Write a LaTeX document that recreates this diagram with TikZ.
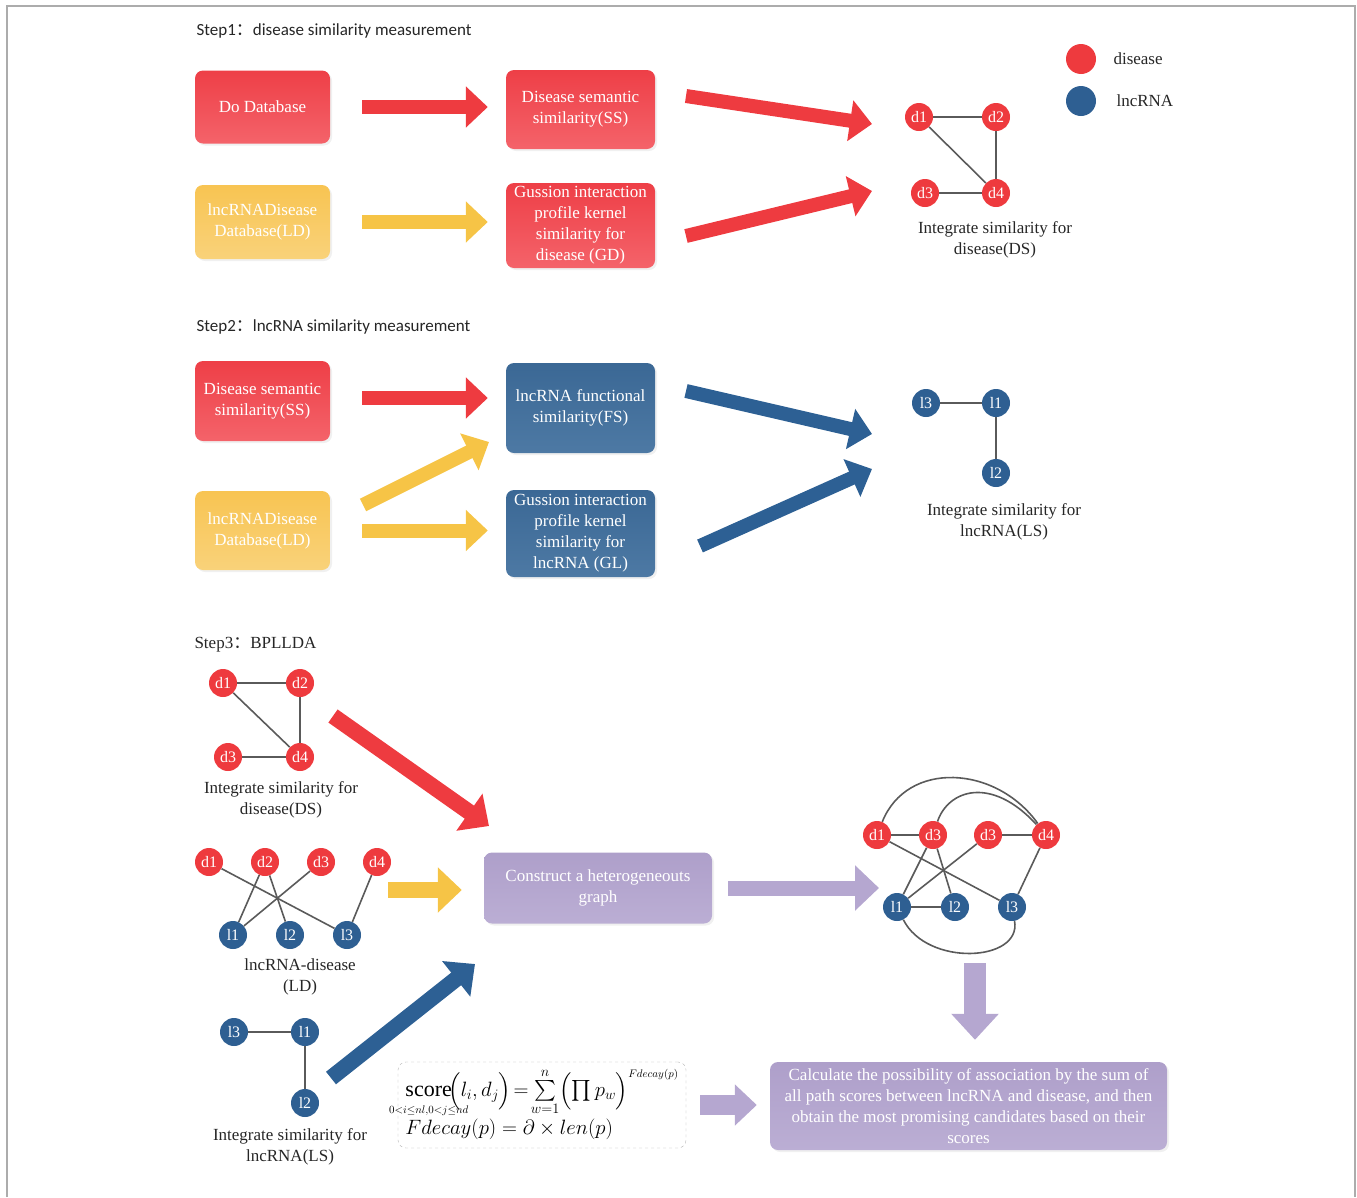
\documentclass[tikz,border=0pt]{standalone}
\usepackage{amsmath}
\usepackage{fontspec}
\setmainfont{Liberation Serif}
\newfontfamily\stepfont{Carlito}
\newfontfamily\cjk{Noto Sans CJK SC}
\usepackage{xcolor}
\usetikzlibrary{arrows.meta,positioning,shadows,calc}

\definecolor{boxred}{HTML}{EE3F47}
\definecolor{boxredlt}{HTML}{F4636A}
\definecolor{boxyel}{HTML}{F8C452}
\definecolor{boxyellt}{HTML}{F9D27A}
\definecolor{boxblue}{HTML}{3B6895}
\definecolor{boxbluelt}{HTML}{4D79A4}
\definecolor{boxpur}{HTML}{AE9FCA}
\definecolor{boxpurlt}{HTML}{BBAED4}
\definecolor{nodered}{HTML}{EE3A3E}
\definecolor{nodeblue}{HTML}{2E5F92}
\definecolor{arrred}{HTML}{EE3B40}
\definecolor{arryel}{HTML}{F6C446}
\definecolor{arrblue}{HTML}{2D6094}
\definecolor{arrpur}{HTML}{B5A7D0}
\definecolor{edgegray}{HTML}{5A5A5A}

\tikzset{
  box/.style={rounded corners=8pt, align=center, text=white, inner sep=2pt,
    font=\fontsize{17}{21}\selectfont,
    drop shadow={opacity=0.12, shadow xshift=2pt, shadow yshift=-2pt}},
  redbox/.style={box, top color=boxred, bottom color=boxredlt},
  yelbox/.style={box, top color=boxyel, bottom color=boxyellt},
  bluebox/.style={box, top color=boxblue, bottom color=boxbluelt},
  purbox/.style={box, top color=boxpur, bottom color=boxpurlt},
  dnode/.style={circle, fill=nodered, text=white, minimum size=28pt, inner sep=0pt,
    font=\fontsize{16}{16}\selectfont},
  lnode/.style={dnode, fill=nodeblue},
  edge/.style={draw=edgegray, line width=1.6pt},
  fat/.style={line width=14pt, -{Triangle[length=22pt, width=40pt]}},
  redarrow/.style={fat, draw=arrred},
  yelarrow/.style={fat, draw=arryel},
  bluearrow/.style={fat, draw=arrblue},
  purarrow/.style={fat, draw=arrpur},
  caption/.style={align=center, text=black!85, font=\fontsize{17}{21}\selectfont},
  stephead/.style={anchor=west, text=black!85, font=\stepfont\fontsize{17}{20}\selectfont},
}

\begin{document}
\begin{tikzpicture}[x=1pt, y=-1pt]
    \useasboundingbox (0,0) rectangle (1357,1197);
    \draw[gray!65, line width=2pt] (7,1197) -- (7,6) -- (1355,6) -- (1355,1197);

    % Step 1
    \node[stephead] (stepone) at (193,31) {Step1{\cjk ：}disease similarity measurement};
    \node[redbox, minimum width=135pt, minimum height=73pt] (dodb) at (262.5,107) {Do Database};
    \node[yelbox, minimum width=135pt, minimum height=74pt] (ldone) at (262.5,222) {lncRNADisease\\Database(LD)};
    \node[redbox, minimum width=149pt, minimum height=79pt] (ssone) at (580.5,109.5) {Disease semantic\\similarity(SS)};
    \node[redbox, minimum width=149pt, minimum height=85pt] (gdone) at (580.5,225.5) {Gussion interaction\\profile kernel\\similarity for\\disease (GD)};

    \draw[redarrow, shorten <=32pt, shorten >=18pt] (dodb.east) -- (dodb.east -| ssone.west);
    \draw[yelarrow, shorten <=32pt, shorten >=18pt] (ldone.east) -- (ldone.east -| gdone.west);

    \coordinate (ssout) at (686,96);
    \coordinate (gdout) at (686,236);
    \coordinate (dsinone) at (872,124);
    \coordinate (dsintwo) at (872,191);
    \draw[redarrow] (ssout) -- (dsinone);
    \draw[redarrow] (gdout) -- (dsintwo);

    % disease similarity graph
    \node[dnode] (oned1) at (919,117) {d1};
    \node[dnode] (oned2) at (996,117) {d2};
    \node[dnode] (oned3) at (925,193) {d3};
    \node[dnode] (oned4) at (996,193) {d4};
    \draw[edge] (oned1) -- (oned2);
    \draw[edge] (oned1) -- (oned4);
    \draw[edge] (oned2) -- (oned4);
    \draw[edge] (oned3) -- (oned4);
    \node[caption] (dscapone) at (995,240) {Integrate similarity for\\disease(DS)};

    % legend
    \node[dnode, minimum size=30pt] (legd) at (1081,59) {};
    \node[lnode, minimum size=30pt] (legl) at (1081,101) {};
    \node[caption, anchor=west] (legdtxt) at (1110,59) {disease};
    \node[caption, anchor=west] (legltxt) at (1113,101) {lncRNA};

    % Step 2
    \node[stephead] (steptwo) at (193,327) {Step2{\cjk ：}lncRNA similarity measurement};
    \node[redbox, minimum width=135pt, minimum height=80pt] (sstwo) at (262.5,401) {Disease semantic\\similarity(SS)};
    \node[yelbox, minimum width=135pt, minimum height=79pt] (ldtwo) at (262.5,530.5) {lncRNADisease\\Database(LD)};
    \node[bluebox, minimum width=149pt, minimum height=90pt] (fstwo) at (580.5,408) {lncRNA functional\\similarity(FS)};
    \node[bluebox, minimum width=149pt, minimum height=87pt] (gltwo) at (580.5,533.5) {Gussion interaction\\profile kernel\\similarity for\\lncRNA (GL)};

    \draw[redarrow, shorten <=32pt, shorten >=18pt] (sstwo.east |- 0,398) -- (fstwo.west |- 0,398);
    \draw[yelarrow, shorten <=32pt, shorten >=18pt] (ldtwo.east) -- (ldtwo.east -| gltwo.west);
    \coordinate (ldup) at (363,505);
    \coordinate (fsin) at (489,442);
    \draw[yelarrow] (ldup) -- (fsin);

    \coordinate (fsout) at (686,391);
    \coordinate (glout) at (700,546);
    \coordinate (lsinone) at (872,434);
    \coordinate (lsintwo) at (872,469);
    \draw[bluearrow] (fsout) -- (lsinone);
    \draw[bluearrow] (glout) -- (lsintwo);

    % lncRNA similarity graph
    \node[lnode] (twol3) at (926,403) {l3};
    \node[lnode] (twol1) at (996,403) {l1};
    \node[lnode] (twol2) at (996,473) {l2};
    \draw[edge] (twol3) -- (twol1);
    \draw[edge] (twol1) -- (twol2);
    \node[caption] (lscaptwo) at (1004,522) {Integrate similarity for\\lncRNA(LS)};

    % Step 3
    \node[caption, anchor=west] (stepthree) at (191,645) {Step3{\cjk ：}BPLLDA};

    \node[dnode] (thrd1) at (223,683) {d1};
    \node[dnode] (thrd2) at (300,683) {d2};
    \node[dnode] (thrd3) at (228,757) {d3};
    \node[dnode] (thrd4) at (300,757) {d4};
    \draw[edge] (thrd1) -- (thrd2);
    \draw[edge] (thrd1) -- (thrd4);
    \draw[edge] (thrd2) -- (thrd4);
    \draw[edge] (thrd3) -- (thrd4);
    \node[caption] (dscapthree) at (281,800) {Integrate similarity for\\disease(DS)};

    % lncRNA-disease graph
    \foreach \i/\x in {1/209,2/265,3/321,4/377}
        \node[dnode] (ldd\i) at (\x,862) {d\i};
    \foreach \i/\x in {1/233,2/290,3/347}
        \node[lnode] (ldl\i) at (\x,935) {l\i};
    \draw[edge] (ldd1) -- (ldl3);
    \draw[edge] (ldd2) -- (ldl1);
    \draw[edge] (ldd2) -- (ldl2);
    \draw[edge] (ldd3) -- (ldl1);
    \draw[edge] (ldd4) -- (ldl3);
    \node[caption] (ldcap) at (300,977) {lncRNA-disease\\(LD)};

    \node[lnode] (lsl3) at (234,1032) {l3};
    \node[lnode] (lsl1) at (305,1032) {l1};
    \node[lnode] (lsl2) at (305,1103) {l2};
    \draw[edge] (lsl3) -- (lsl1);
    \draw[edge] (lsl1) -- (lsl2);
    \node[caption] (lscapthree) at (290,1147) {Integrate similarity for\\lncRNA(LS)};

    % construct heterogeneous graph
    \node[purbox, minimum width=228pt, minimum height=71pt] (hetero) at (598,888) {Construct a heterogeneouts\\graph};
    \coordinate (dsout) at (333,716);
    \coordinate (hetin) at (489,826);
    \coordinate (lsout) at (331,1078);
    \coordinate (hetinb) at (475,964);
    \coordinate (ldout) at (388,890);
    \draw[redarrow, line width=16pt, -{Triangle[length=24pt, width=44pt]}] (dsout) -- (hetin);
    \draw[yelarrow, line width=16pt, -{Triangle[length=24pt, width=44pt]}, shorten >=22pt] (ldout) -- (ldout -| hetero.west);
    \draw[bluearrow, line width=16pt, -{Triangle[length=24pt, width=44pt]}] (lsout) -- (hetinb);

    \coordinate (hetgin) at (879,888);
    \draw[purarrow, line width=15pt, -{Triangle[length=24pt, width=44pt]}, shorten <=16pt] (hetero.east) -- (hetgin);

    % heterogeneous graph
    \node[dnode] (hd1) at (877,835) {d1};
    \node[dnode] (hd3a) at (933,835) {d3};
    \node[dnode] (hd3b) at (988,835) {d3};
    \node[dnode] (hd4) at (1046,835) {d4};
    \node[lnode] (hl1) at (897,907) {l1};
    \node[lnode] (hl2) at (955,907) {l2};
    \node[lnode] (hl3) at (1012,907) {l3};
    \draw[edge] (hd1) -- (hd3a);
    \draw[edge] (hd3b) -- (hd4);
    \draw[edge] (hl1) -- (hl2);
    \draw[edge] (hd1) -- (hl3);
    \draw[edge] (hd3a) -- (hl1);
    \draw[edge] (hd3a) -- (hl2);
    \draw[edge] (hd3b) -- (hl1);
    \draw[edge] (hd4) -- (hl3);
    \draw[edge] (hd1) .. controls +(30,-75) and +(-50,-70) .. (hd4);
    \draw[edge] (hd3a) .. controls +(15,-45) and +(-55,-60) .. (hd4);
    \draw[edge] (hl1) .. controls +(30,60) and +(10,55) .. (hl3);

    % score calculation
    \node[purbox, minimum width=397pt, minimum height=88pt] (calc) at (968.5,1106) {Calculate the possibility of association by the sum of\\all path scores between lncRNA and disease, and then\\obtain the most promising candidates based on their\\scores};
    \coordinate (hgout) at (975,963);
    \draw[purarrow, line width=22pt, -{Triangle[length=26pt, width=46pt]}, shorten >=22pt] (hgout) -- (hgout |- calc.north);

    \node[draw=gray!60, dashed, rounded corners=8pt, minimum width=288pt, minimum height=86pt, inner sep=1pt,
          font=\fontsize{22}{24}\selectfont] (form) at (542,1105)
        {\begin{tabular}{@{}l@{}}
         $\underset{\makebox[0pt]{\raisebox{-5pt}{$\scriptscriptstyle 0<i\le nl,0<j\le nd$}}}{\mathrm{score}}\!\Bigl(l_i,d_j\Bigr)\!=\!\sum\limits_{w=1}^{n}\Bigl(\prod p_w\Bigr)^{\scriptscriptstyle Fdecay(p)}$\\[8pt]
         $Fdecay(p)=\partial\times len(p)$
         \end{tabular}};
    \draw[purarrow, line width=20pt, -{Triangle[length=22pt, width=40pt]}, shorten <=14pt, shorten >=13pt] (form.east) -- (form.east -| calc.west);
\end{tikzpicture}
\end{document}
